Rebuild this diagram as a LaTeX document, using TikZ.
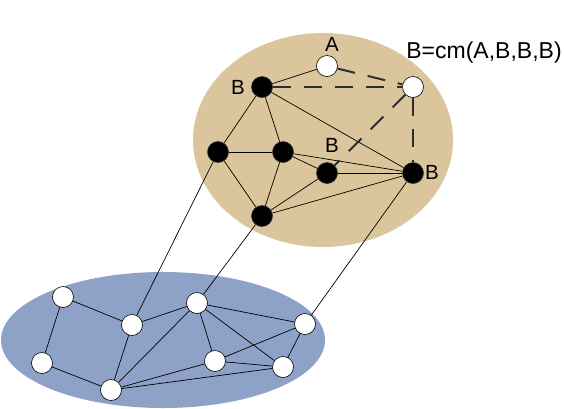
\documentclass[tikz,border=0pt]{standalone}
\usepackage{fontspec}
\setmainfont{Liberation Sans}
\definecolor{tan}{RGB}{219,197,156}
\definecolor{bluegray}{RGB}{142,162,199}
\definecolor{dashgray}{RGB}{45,45,45}
\tikzset{
  blk/.style={circle,fill=black,draw=black!80,line width=0.6pt,minimum size=21pt,inner sep=0pt},
  wht/.style={circle,fill=white,draw=black,line width=0.6pt,minimum size=21pt,inner sep=0pt},
  edge/.style={draw=black,line width=0.7pt},
  dedge/.style={draw=dashgray,line width=2pt,dash pattern=on 18pt off 13pt},
  lbl/.style={font=\fontsize{20.5}{22}\selectfont,inner sep=0pt},
}
\begin{document}
\begin{tikzpicture}[x=1pt,y=-1pt]
\useasboundingbox (0,0) rectangle (564,408);
% ellipses
\fill[tan] (323,140) ellipse [x radius=130, y radius=107];
\fill[bluegray] (163,340) ellipse [x radius=162, y radius=68];
% top nodes
\node[blk] (b1) at (262,87) {};
\node[wht] (a) at (327,66) {};
\node[wht] (c) at (413,87) {};
\node[blk] (k1) at (218,152) {};
\node[blk] (k2) at (283,152) {};
\node[blk] (k3) at (327,173) {};
\node[blk] (k4) at (413,173) {};
\node[blk] (k5) at (262,216) {};
% bottom nodes
\node[wht] (l1) at (63,297) {};
\node[wht] (l2) at (132,325) {};
\node[wht] (l3) at (197,303) {};
\node[wht] (l4) at (305,324) {};
\node[wht] (l5) at (42,363) {};
\node[wht] (l6) at (215,361) {};
\node[wht] (l7) at (283,367) {};
\node[wht] (l8) at (111,390) {};
% labels
\node[lbl] (ta) at (332,44) {A};
\node[lbl] (tb1) at (238,87) {B};
\node[lbl] (tb2) at (332,145) {B};
\node[lbl] (tb3) at (432,172) {B};
\node[lbl,font=\fontsize{23}{25}\selectfont] (tf) at (484,53) {B=cm(A,B,B,B)};
% edges (behind nodes)
\begin{scope}[on background layer/.style={}]
\end{scope}
\path[edge] (b1) -- (a);
\path[edge] (b1) -- (k1);
\path[edge] (b1) -- (k2);
\path[edge] (b1) -- (k4);
\path[edge] (k1) -- (k2);
\path[edge] (k1) -- (k5);
\path[edge] (k2) -- (k5);
\path[edge] (k2) -- (k3);
\path[edge] (k2) -- (k4);
\path[edge] (k3) -- (k4);
\path[edge] (k3) -- (k5);
\path[edge] (k5) -- (k4);
\path[dedge] (a) -- (c);
\path[dedge] (b1) -- (c);
\path[dedge] (c) -- (k3);
\path[dedge] (c) -- (k4);
\path[edge] (l1) -- (l2);
\path[edge] (l1) -- (l5);
\path[edge] (l2) -- (l3);
\path[edge] (l2) -- (l8);
\path[edge] (l5) -- (l8);
\path[edge] (l3) -- (l8);
\path[edge] (l3) -- (l4);
\path[edge] (l3) -- (l6);
\path[edge] (l3) -- (l7);
\path[edge] (l6) -- (l4);
\path[edge] (l6) -- (l7);
\path[edge] (l6) -- (l8);
\path[edge] (l7) -- (l8);
\path[edge] (l4) -- (l7);
\path[edge] (k1) -- (l2);
\path[edge] (k5) -- (l3);
\path[edge] (k4) -- (l4);
\end{tikzpicture}
\end{document}
